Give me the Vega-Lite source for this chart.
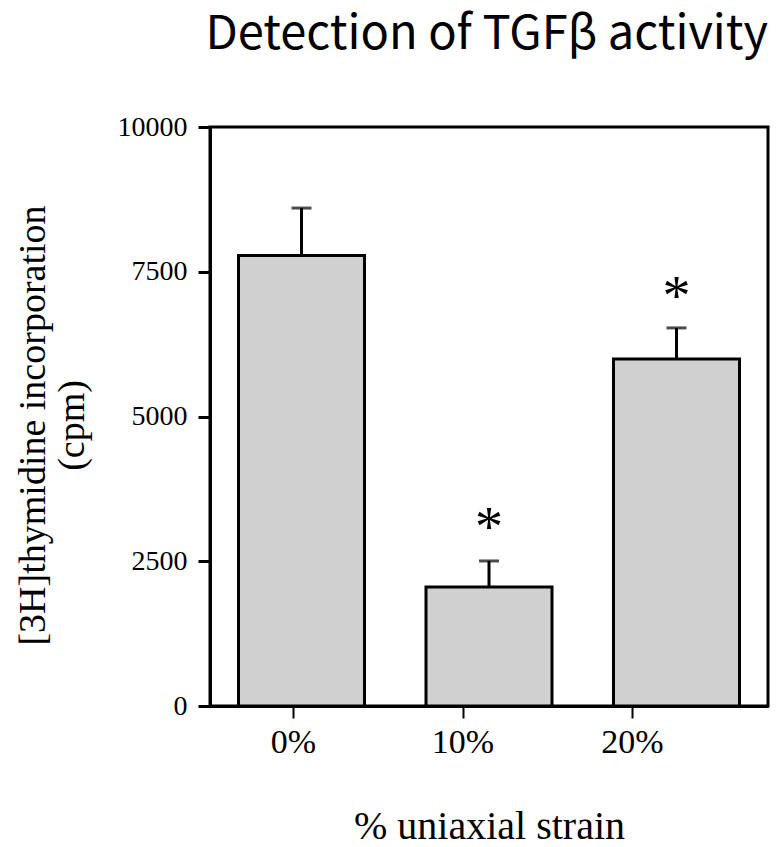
{
  "$schema": "https://vega.github.io/schema/vega-lite/v6.json",
  "width": 558,
  "height": 579,
  "autosize": {"type": "none"},
  "padding": {"left": 210, "top": 127, "right": 10, "bottom": 141},
  "background": "white",
  "title": {"text": "Detection of TGFβ activity", "anchor": "end", "frame": "group", "font": "Noto Sans CJK KR", "fontSize": 47, "fontWeight": "normal", "color": "black", "offset": 54},
  "config": {
    "view": {"stroke": "black", "strokeWidth": 3},
    "axis": {"grid": false, "domainColor": "black", "domainWidth": 3, "tickColor": "black", "labelColor": "black", "titleColor": "black", "labelFont": "Liberation Serif, serif", "titleFont": "Liberation Serif, serif", "titleFontWeight": "normal"}
  },
  "data": {"values": [
    {"strain": "0%", "cpm": 7780, "upper": 8600, "star": null, "sig": ""},
    {"strain": "10%", "cpm": 2055, "upper": 2505, "star": 3280, "sig": "*"},
    {"strain": "20%", "cpm": 5995, "upper": 6530, "star": 7270, "sig": "*"}
  ]},
  "layer": [
    {
      "encoding": {
        "x": {"field": "strain", "type": "nominal", "sort": null, "scale": {"paddingInner": 0.328, "paddingOuter": 0.152}, "axis": null}
      },
      "layer": [
        {
          "mark": {"type": "bar", "fill": "#d0d0d0", "stroke": "black", "strokeWidth": 3},
          "encoding": {
            "y": {"field": "cpm", "type": "quantitative", "scale": {"domain": [0, 10000], "nice": false},
              "axis": {"values": [0, 2500, 5000, 7500, 10000], "format": "d", "labelFont": "Liberation Serif, serif", "labelFontSize": 28, "tickSize": 12, "tickWidth": 3, "labelPadding": 11,
                "title": ["[3H]thymidine incorporation", "(cpm)"], "titleFont": "Liberation Serif, serif", "titleFontSize": 38, "titleLineHeight": 39, "titlePadding": 26, "titleY": 298}}
          }
        },
        {
          "mark": {"type": "rule", "strokeWidth": 3, "color": "black"},
          "encoding": {"y": {"field": "cpm", "type": "quantitative"}, "y2": {"field": "upper"}}
        },
        {
          "mark": {"type": "tick", "size": 20, "thickness": 3, "color": "black"},
          "encoding": {"y": {"field": "upper", "type": "quantitative"}}
        },
        {
          "mark": {"type": "text", "font": "Liberation Serif, serif", "fontSize": 56, "baseline": "alphabetic", "dy": 30, "color": "black"},
          "encoding": {"y": {"field": "star", "type": "quantitative"}, "text": {"field": "sig"}}
        }
      ]
    },
    {
      "mark": {"type": "point", "opacity": 0},
      "encoding": {
        "x": {"field": "strain", "type": "nominal", "sort": null, "scale": {"type": "point", "padding": 0.646, "align": 0.379},
          "axis": {"orient": "bottom", "labelAngle": 0, "labelFont": "Liberation Serif, serif", "labelFontSize": 34, "tickSize": 12, "tickWidth": 2, "labelPadding": 7,
            "title": "% uniaxial strain", "titleFont": "Liberation Serif, serif", "titleFontSize": 40, "titlePadding": 47}},
        "y": {"field": "cpm", "type": "quantitative"}
      }
    }
  ],
  "resolve": {"scale": {"x": "independent"}}
}
